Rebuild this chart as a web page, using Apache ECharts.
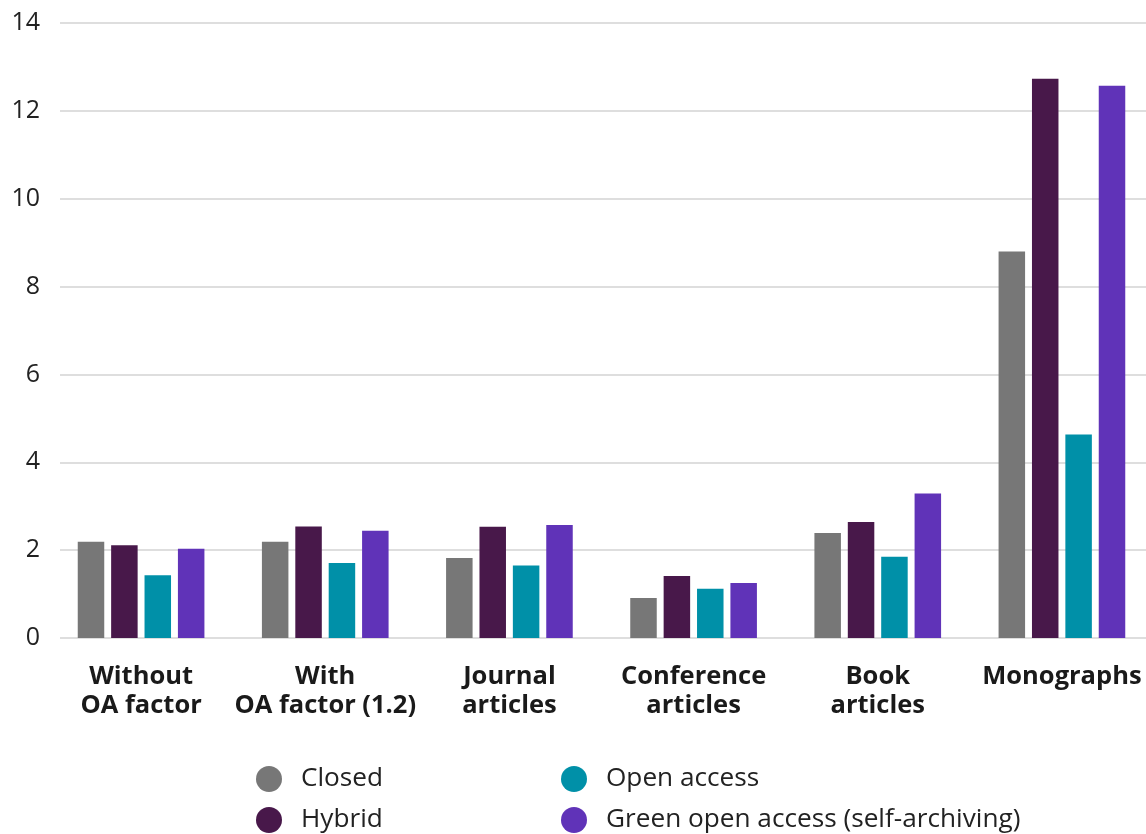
<!DOCTYPE html>
<html>
<head>
<meta charset="utf-8">
<style>
  html, body { margin: 0; padding: 0; background: #ffffff; }
  #chart { width: 1146px; height: 834px; }
</style>
<script src="https://cdn.jsdelivr.net/npm/echarts@6/dist/echarts.min.js"></script>
</head>
<body>
<div id="chart"></div>
<script>
const categories = ['Without\nOA factor', 'With\nOA factor (1.2)', 'Journal\narticles', 'Conference\narticles', 'Book\narticles', 'Monographs'];
const seriesNames = ['Closed', 'Hybrid', 'Open access', 'Green open access (self-archiving)'];
const closed = [2.19, 2.19, 1.82, 0.91, 2.39, 8.80];
const hybrid = [2.11, 2.54, 2.53, 1.41, 2.64, 12.73];
const openAccess = [1.43, 1.71, 1.65, 1.12, 1.85, 4.63];
const greenOA = [2.03, 2.44, 2.57, 1.25, 3.29, 12.57];
const yTicks = { min: 0, max: 14, interval: 2 };

const colors = ['#777777', '#48184a', '#0090a8', '#6033b8'];
const values = [closed, hybrid, openAccess, greenOA];
const FONT = '"Open Sans", "Noto Sans", sans-serif';

const chart = echarts.init(document.getElementById('chart'), null, { renderer: 'canvas' });

function legendAt(name, left, top) {
  return {
    data: [name],
    left: left, top: top,
    orient: 'horizontal',
    icon: 'circle',
    itemWidth: 26, itemHeight: 26,
    selectedMode: false,
    padding: 0,
    textStyle: { fontFamily: FONT, fontSize: 26.2, color: '#222222', padding: [0, 0, 0, 14] }
  };
}

const option = {
  backgroundColor: '#ffffff',
  animation: false,
  color: colors,
  textStyle: { fontFamily: FONT },
  legend: [
    legendAt(seriesNames[0], 256, 766),
    legendAt(seriesNames[1], 256, 807),
    legendAt(seriesNames[2], 561, 766),
    legendAt(seriesNames[3], 561, 807)
  ],
  grid: [
    { left: 49, width: 1105, top: 23, bottom: 196, containLabel: false, outerBoundsMode: 'none' },
    { left: 60, right: 0, top: 23, bottom: 196, containLabel: false, outerBoundsMode: 'none' }
  ],
  xAxis: [
    {
      type: 'category', gridIndex: 0, data: categories,
      axisLine: { show: false }, axisTick: { show: false },
      axisLabel: {
        interval: 0, margin: 24, fontFamily: FONT, fontSize: 25.5, fontWeight: 'bold',
        lineHeight: 29, color: '#1a1a1a'
      }
    },
    { type: 'value', gridIndex: 1, show: false, min: 0, max: 1 }
  ],
  yAxis: [
    { type: 'value', gridIndex: 0, min: yTicks.min, max: yTicks.max, interval: yTicks.interval, show: false },
    {
      type: 'value', gridIndex: 1, min: yTicks.min, max: yTicks.max, interval: yTicks.interval,
      axisLine: { show: false }, axisTick: { show: false },
      axisLabel: { margin: 20, fontFamily: FONT, fontSize: 25, color: '#222222' },
      splitLine: { show: true, lineStyle: { color: '#dedede', width: 2 } }
    }
  ],
  series: seriesNames.map((name, i) => ({
    name: name,
    type: 'bar',
    xAxisIndex: 0, yAxisIndex: 0,
    data: values[i],
    barWidth: 26.5,
    barGap: '26%',
    itemStyle: { color: colors[i] }
  }))
};

chart.setOption(option);
</script>
</body>
</html>
